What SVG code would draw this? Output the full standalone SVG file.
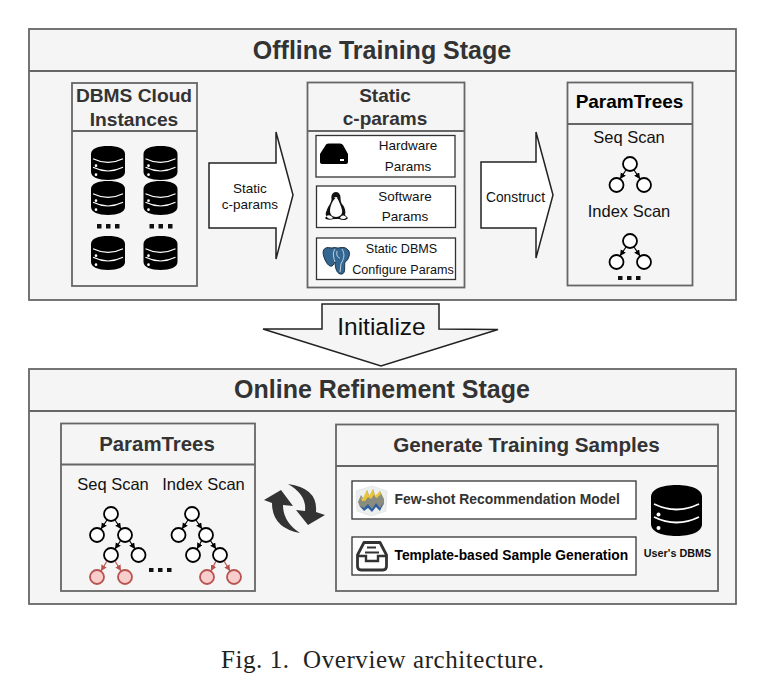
<svg xmlns="http://www.w3.org/2000/svg" width="759" height="691" viewBox="0 0 759 691">
<style>
text{font-family:"Liberation Sans",Arial,sans-serif;text-anchor:middle;fill:#111}
.h{font-weight:bold;fill:#333}
.box{fill:#f5f5f5;stroke:#666;stroke-width:1.800}
.ln{stroke:#666;stroke-width:1.800;fill:none}
.w{fill:#fff;stroke:#333;stroke-width:1.300}
.big{fill:#fff;stroke:#222;stroke-width:1.500;stroke-linejoin:miter}
.n{fill:#fff;stroke:#000;stroke-width:1.800}
.r{fill:#f8cecc;stroke:#b85450;stroke-width:1.800}
.e{stroke:#000;stroke-width:1.200;fill:none;marker-end:url(#a)}
.er{stroke:#b85450;stroke-width:1.200;fill:none;marker-end:url(#ar)}
.t13{font-size:13.500px}
.t16{font-size:16.500px}
.dots{fill:#111}
</style>
<defs>
<marker id="a" markerWidth="7" markerHeight="7" refX="6" refY="3" orient="auto" markerUnits="userSpaceOnUse"><path d="M0 0L6 3L0 6Z" fill="#000"/></marker>
<marker id="ar" markerWidth="7" markerHeight="7" refX="6" refY="3" orient="auto" markerUnits="userSpaceOnUse"><path d="M0 0L6 3L0 6Z" fill="#b85450"/></marker>
<symbol id="db" viewBox="0 0 51 51">
<path d="M0 12C0 4 11 0 25.500 0S51 4 51 12V39C51 47 40 51 25.500 51S0 47 0 39Z" fill="#000"/>
<path d="M3 19Q25.500 30 48 19M3 32Q25.500 43 48 32" stroke="#fff" stroke-width="1.800" fill="none"/>
<circle cx="7.500" cy="29.500" r="2" fill="#fff"/><circle cx="7.500" cy="43" r="2" fill="#fff"/>
</symbol>
</defs>
<rect width="759" height="691" fill="#fff"/>

<g id="offline-stage">
<rect class="box" x="29" y="29" width="707" height="271"/><path class="ln" d="M29 71H736"/>
<text class="h" x="382" y="59" font-size="25">Offline Training Stage</text>
</g>

<g id="dbms-cloud">
<rect class="box" x="72" y="83" width="125" height="203"/><path class="ln" d="M72 131H197"/>
<text class="h" x="134" y="102" font-size="19.200">DBMS Cloud</text>
<text class="h" x="134" y="125.500" font-size="19.200">Instances</text>
<use href="#db" x="90.500" y="146" width="35" height="34"/><use href="#db" x="143" y="146" width="35" height="34"/>
<use href="#db" x="90.500" y="181" width="35" height="34"/><use href="#db" x="143" y="181" width="35" height="34"/>
<use href="#db" x="90.500" y="236" width="35" height="34"/><use href="#db" x="143" y="236" width="35" height="34"/>
<path class="dots" d="M97 224h4.500v4.500h-4.500zM106 224h4.500v4.500h-4.500zM115 224h4.500v4.500h-4.500zM149.500 224h4.500v4.500h-4.500zM158.500 224h4.500v4.500h-4.500zM168 224h4.500v4.500h-4.500z"/>
</g>

<g id="arrow-static">
<path class="big" d="M209 163H276V132L293 195L276 259V228H209Z"/>
<text class="t13" x="250" y="193">Static</text><text class="t13" x="250" y="209">c-params</text>
</g>

<g id="static-params">
<rect class="box" x="307.500" y="82.500" width="157" height="205"/><path class="ln" d="M307.500 131H464.500"/>
<text class="h" x="385" y="102" font-size="19">Static</text>
<text class="h" x="385" y="125" font-size="19">c-params</text>
<g id="hardware">
<rect class="w" x="316" y="135.500" width="139" height="41.500"/>
<path d="M326 144.500Q327 143.500 329 143.500H340Q342 143.500 343 145L348 154V162Q348 164 346 164H323Q320 164 320 162V154Z" fill="#000"/>
<rect x="340" y="159" width="4" height="2" fill="#fff"/>
<text class="t13" x="408" y="150">Hardware</text><text class="t13" x="408" y="171">Params</text>
</g>
<g id="software">
<rect class="w" x="316.500" y="186" width="139" height="41.500"/>
<path d="M336 192C332 192 331 196 331.500 199C331.500 203 328 206 326.500 211C325 214 326 216 327 216L325 218C326 220 330 220 334 219H339C342 220 346 221 348 218L345 215C346 212 345 207 342 204C340 201 341 197 340 195C339 193 338 192 336 192Z" fill="#111"/>
<path d="M335.500 198C332.500 201 330 206 330 211C330 214 332 217 336 217C340 217 343 214 342 210C341 206 339 201 337 198Z" fill="#fff"/>
<path d="M326.500 216.500C328 214.500 331 215 333 218C331 219.500 328 219 326.500 216.500ZM340 218C341 215 344 214.500 346.500 217.500C344.500 219.500 342 219.500 340 218Z" fill="#fff"/>
<path d="M334 197L337.500 197L336 199Z" fill="#ddd"/>
<text class="t13" x="405" y="201">Software</text><text class="t13" x="405" y="221">Params</text>
</g>
<g id="dbms-config">
<rect class="w" x="316.500" y="238" width="139" height="41.500"/>
<path d="M331 248C323 246 322 252 324 257C326 263 329 267 332 266C334 265 333.500 263 335 262C335 268 337 275 342 274C346 273 344 266 345 262C349 260 351 252 348 250C345 246 340 248 337 248C335 247 333 248 331 248Z" fill="#336791" stroke="#1c2f3f" stroke-width="1"/>
<path d="M335 249C332 253 334 259 335 262M342 249C345 254 344 258 342 262C340 264 341 268 340 272M337 251C336 255 338 258 340 258" stroke="#e6edf3" stroke-width=".8" fill="none"/>
<text x="401.500" y="253" font-size="12.600">Static DBMS</text><text x="403" y="274" font-size="12.600">Configure Params</text>
</g>
</g>

<g id="arrow-construct">
<path class="big" d="M481 162H536V132L553 195L536 258V228H481Z"/>
<text x="515.500" y="202" font-size="13.800">Construct</text>
</g>

<g id="paramtrees-top">
<rect class="box" x="567.500" y="82.500" width="125" height="203"/><path class="ln" d="M567.500 124H692.500"/>
<text x="629.500" y="108" font-size="19" font-weight="bold" style="fill:#000">ParamTrees</text>
<text class="t16" x="629" y="143">Seq Scan</text>
<text class="t16" x="629" y="217">Index Scan</text>
<circle class="n" cx="630" cy="164" r="7"/><circle class="n" cx="616.500" cy="185" r="7"/><circle class="n" cx="644" cy="185" r="7"/>
<circle class="n" cx="630" cy="241" r="7"/><circle class="n" cx="616.500" cy="262" r="7"/><circle class="n" cx="644" cy="262" r="7"/>
<path class="dots" d="M618 276h4.500v4h-4.500zM627 276h4.500v4h-4.500zM636 276h4.500v4h-4.500z"/>
</g>

<g id="initialize">
<path d="M322 304H439V329L498 329.500L381 366L263 329H322Z" fill="#f5f5f5" stroke="#222" stroke-width="1.500"/>
<text x="381.500" y="335" font-size="24.500">Initialize</text>
</g>

<g id="online-stage">
<rect class="box" x="29" y="369" width="707" height="235"/><path class="ln" d="M29 411H736"/>
<text class="h" x="382" y="398" font-size="25">Online Refinement Stage</text>
</g>

<g id="paramtrees-bottom">
<rect class="box" x="61" y="423.500" width="194" height="167.500"/><path class="ln" d="M61 464.500H255"/>
<text class="h" x="157" y="451" font-size="20.400">ParamTrees</text>
<text class="t16" x="113" y="489.500">Seq Scan</text>
<text class="t16" x="203.500" y="489.500">Index Scan</text>
<circle class="n" cx="111" cy="514" r="7"/><circle class="n" cx="97" cy="535" r="7"/><circle class="n" cx="125" cy="535" r="7"/><circle class="n" cx="111" cy="555" r="7"/><circle class="n" cx="138.500" cy="555" r="7"/>
<circle class="r" cx="97" cy="577" r="7"/><circle class="r" cx="125" cy="577" r="7"/>
<circle class="n" cx="192" cy="514" r="7"/><circle class="n" cx="178.500" cy="535" r="7"/><circle class="n" cx="206" cy="535" r="7"/><circle class="n" cx="193" cy="555" r="7"/><circle class="n" cx="220" cy="555" r="7"/>
<circle class="r" cx="207" cy="577" r="7"/><circle class="r" cx="234" cy="577" r="7"/>
<path class="dots" d="M149 568h4.500v4h-4.500zM158 568h4.500v4h-4.500zM167 568h4.500v4h-4.500z"/>
</g>

<g id="refresh">
<path d="M264 500L281 490L293 506L283 505Q283 522 300 533Q272 528 272 503Z" fill="#333"/>
<path d="M288 484Q318 488 316 512L325 515L308 525L296 510L305 511Q307 495 288 484Z" fill="#333"/>
</g>

<g id="generate-samples">
<rect class="box" x="336" y="424.500" width="382" height="166.500"/><path class="ln" d="M336 466H718"/>
<text class="h" x="526.500" y="452" font-size="20.700">Generate Training Samples</text>
<g id="few-shot">
<rect class="w" x="352" y="481" width="284" height="38"/>
<path d="M356 491L372 486L387 491L386 511L371 516L357 511Z" fill="#eceff0" stroke="#ddd" stroke-width=".6"/>
<path d="M358 502L361 495L364 500L367 490L370 498L373 489L376 498L380 491L384 499L384 504L380 510L376 505L372 511L368 506L364 510L360 507Z" fill="#8a8c80"/>
<path d="M360.500 497L362.500 499L367 490L369 496L373 489L375 496L380 491L381 494L377 498L374 495L371 499L368 497L365 501L362 501Z" fill="#e8c53a"/>
<path d="M360 506L364 508L368 504L372 509L376 503L380 508L383 503L382 506L380 511L376 507L372 512L368 508L364 511Z" fill="#2f5f9e"/>
<text class="h" style="text-anchor:start" x="394.500" y="504" font-size="13.900">Few-shot Recommendation Model</text>
</g>
<g id="template">
<rect class="w" x="352" y="537" width="284" height="38"/>
<path d="M364 542.500H380L386.500 555V566Q386.500 570 383 570H361Q357.500 570 357.500 566V555Z" fill="none" stroke="#333" stroke-width="2.800" stroke-linejoin="round"/>
<path d="M358 556H366V561H378V556H386" fill="none" stroke="#333" stroke-width="2.400"/>
<path d="M367 547.500H376M365 552.500H379" stroke="#333" stroke-width="2.200"/>
<text class="h" style="text-anchor:start;fill:#000" x="394.500" y="560" font-size="13.800">Template-based Sample Generation</text>
</g>
<g id="users-dbms">
<use href="#db" x="651" y="485" width="51" height="51"/>
<text x="677.500" y="556.500" font-size="10.800" font-weight="bold">User's DBMS</text>
</g>
</g>

<g id="connectors">
<path class="e" d="M626 170L620 179"/><path class="e" d="M634 170L640 179"/>
<path class="e" d="M626 247L620 256"/><path class="e" d="M634 247L640 256"/>
<path class="e" d="M107 520L101 529"/><path class="e" d="M115 520L121 529"/><path class="e" d="M121 540L115 549"/><path class="e" d="M129 540L135 549"/>
<path class="er" d="M107 561L101 571"/><path class="er" d="M115 561L121 571"/>
<path class="e" d="M188 520L182 529"/><path class="e" d="M196 520L202 529"/><path class="e" d="M202 540L197 549"/><path class="e" d="M210 540L216 549"/>
<path class="er" d="M216 561L211 571"/><path class="er" d="M224 561L230 571"/>
</g>

<text id="caption" x="382.500" y="668" textLength="323" lengthAdjust="spacing" style="font-family:'Liberation Serif',serif;fill:#222" font-size="25">Fig. 1.&#160; Overview architecture.</text>
</svg>
